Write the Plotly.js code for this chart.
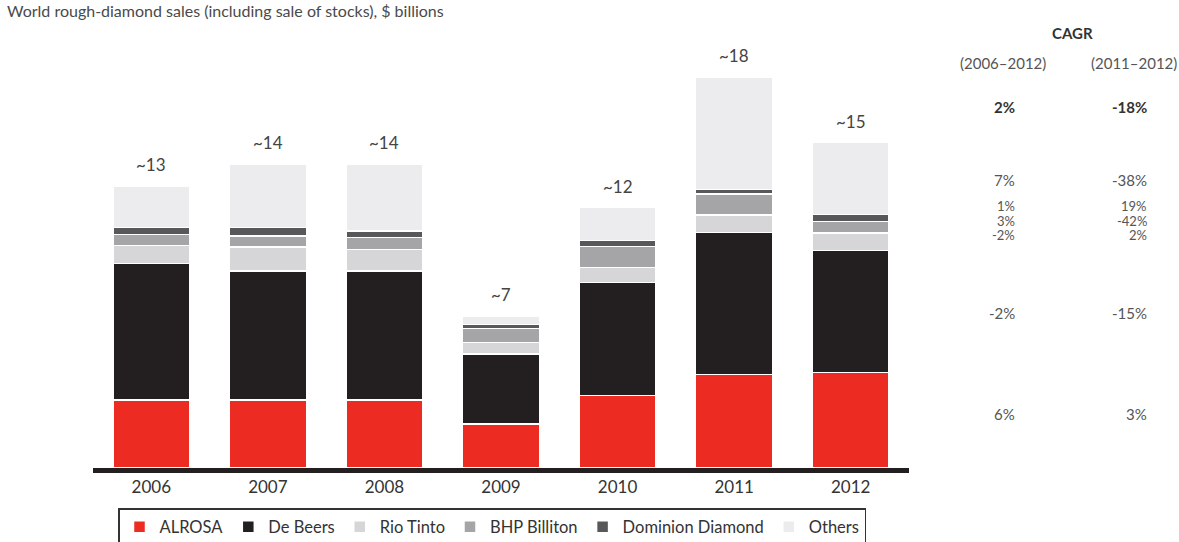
<!DOCTYPE html>
<html>
<head>
<meta charset="utf-8">
<script src="https://cdn.plot.ly/plotly-3.0.1.min.js"></script>
<style>
  html, body { margin: 0; padding: 0; background: #ffffff; }
  #chart { width: 1179px; height: 542px; }
</style>
</head>
<body>
<div id="chart"></div>
<script>
// ---------- data ----------
const years = ['2006', '2007', '2008', '2009', '2010', '2011', '2012'];
const alrosa   = [3.13, 3.13, 3.13, 2.03, 3.33, 4.30, 4.40];
const deBeers  = [6.30, 5.96, 5.96, 3.23, 5.23, 6.55, 5.62];
const rioTinto = [0.83, 1.10, 0.99, 0.52, 0.69, 0.80, 0.82];
const bhp      = [0.50, 0.49, 0.55, 0.66, 0.95, 0.97, 0.52];
const dominion = [0.32, 0.40, 0.30, 0.18, 0.28, 0.22, 0.32];
const others   = [1.92, 2.92, 3.07, 0.38, 1.52, 5.16, 3.32];
const totalLabels = ['~13', '~14', '~14', '~7', '~12', '~18', '~15'];

const seriesNames  = ['ALROSA', 'De Beers', 'Rio Tinto', 'BHP Billiton', 'Dominion Diamond', 'Others'];
const cagrHeader   = ['(2006–2012)', '(2011–2012)'];
const cagrTotal    = ['2%', '-18%'];
const cagrOthers   = ['7%', '-38%'];
const cagrDominion = ['1%', '19%'];
const cagrBhp      = ['3%', '-42%'];
const cagrRio      = ['-2%', '2%'];
const cagrDeBeers  = ['-2%', '-15%'];
const cagrAlrosa   = ['6%', '3%'];

// ---------- styling ----------
const colors = ['#ec2b22', '#231f20', '#d6d6d8', '#a5a5a7', '#58585a', '#ececee'];
const FONT = 'Lato, "Open Sans", sans-serif';
const W = 1179, H = 542;
const M = {l: 93, r: 270, t: 45, b: 74, autoexpand: false};
const PW = W - M.l - M.r, PH = H - M.t - M.b;
const px2x = px => (px - M.l) / PW;
const py2y = py => (H - M.b - py) / PH;

const seriesVals = [alrosa, deBeers, rioTinto, bhp, dominion, others];
const traces = seriesVals.map((vals, i) => ({
  type: 'bar',
  name: seriesNames[i],
  x: years,
  y: vals,
  marker: {color: colors[i], line: {color: '#ffffff', width: 1.5}},
  hoverinfo: 'x+y+name'
}));

const totals = years.map((_, k) => seriesVals.reduce((s, arr) => s + arr[k], 0));

const annotations = [];
years.forEach((yr, k) => {
  annotations.push({
    x: k, y: totals[k], xref: 'x', yref: 'y',
    text: totalLabels[k], showarrow: false,
    yanchor: 'bottom', yshift: 9,
    font: {family: FONT, size: 17, color: '#444444'}
  });
});

// CAGR block
function cagrText(txt, px, py, opts) {
  annotations.push(Object.assign({
    x: px2x(px), y: py2y(py), xref: 'paper', yref: 'paper',
    text: txt, showarrow: false, xanchor: 'center', yanchor: 'middle',
    font: {family: FONT, size: 15, color: '#555555'}
  }, opts || {}));
}
cagrText('<b>CAGR</b>', 1072, 33, {font: {family: FONT, size: 15, color: '#333333'}});
cagrText(cagrHeader[0], 1003, 63);
cagrText(cagrHeader[1], 1134, 63);
const rows = [
  [cagrTotal, 107, true, 15],
  [cagrOthers, 180, false, 15],
  [cagrDominion, 206, false, 13],
  [cagrBhp, 220.5, false, 13],
  [cagrRio, 235, false, 13],
  [cagrDeBeers, 313, false, 15],
  [cagrAlrosa, 414, false, 15]
];
rows.forEach(([vals, py, bold, fs]) => {
  const f = {family: FONT, size: fs, color: bold ? '#333333' : '#555555'};
  cagrText(bold ? '<b>' + vals[0] + '</b>' : vals[0], 1016, py, {xanchor: 'right', borderpad: 0, font: f});
  cagrText(bold ? '<b>' + vals[1] + '</b>' : vals[1], 1148, py, {xanchor: 'right', borderpad: 0, font: f});
});

const layout = {
  width: W, height: H,
  margin: M,
  paper_bgcolor: '#ffffff',
  plot_bgcolor: '#ffffff',
  barmode: 'stack',
  bargap: 0.34,
  title: {
    text: 'World rough-diamond sales (including sale of stocks), $ billions',
    x: 7 / W, xanchor: 'left', xref: 'container',
    y: 1 - 11 / H, yanchor: 'middle', yref: 'container',
    font: {family: FONT, size: 16, color: '#4a4a4a'}
  },
  xaxis: {
    type: 'category',
    range: [-0.5, 6.5],
    showline: true, linewidth: 5, linecolor: '#231f20',
    showgrid: false, zeroline: false, ticks: '',
    tickfont: {family: FONT, size: 17, color: '#333333'},
    fixedrange: true
  },
  yaxis: {
    range: [0, PH / 21.7],
    visible: false, showgrid: false, zeroline: false, fixedrange: true
  },
  showlegend: true,
  legend: {
    orientation: 'h',
    traceorder: 'normal',
    x: px2x(118), xanchor: 'left',
    y: py2y(508), yanchor: 'top',
    bordercolor: '#333333', borderwidth: 1.5,
    bgcolor: '#ffffff',
    font: {family: FONT, size: 16.5, color: '#333333'},
    itemclick: false, itemdoubleclick: false
  },
  annotations: annotations
};

Plotly.newPlot('chart', traces, layout, {displayModeBar: false, staticPlot: true});
</script>
</body>
</html>
